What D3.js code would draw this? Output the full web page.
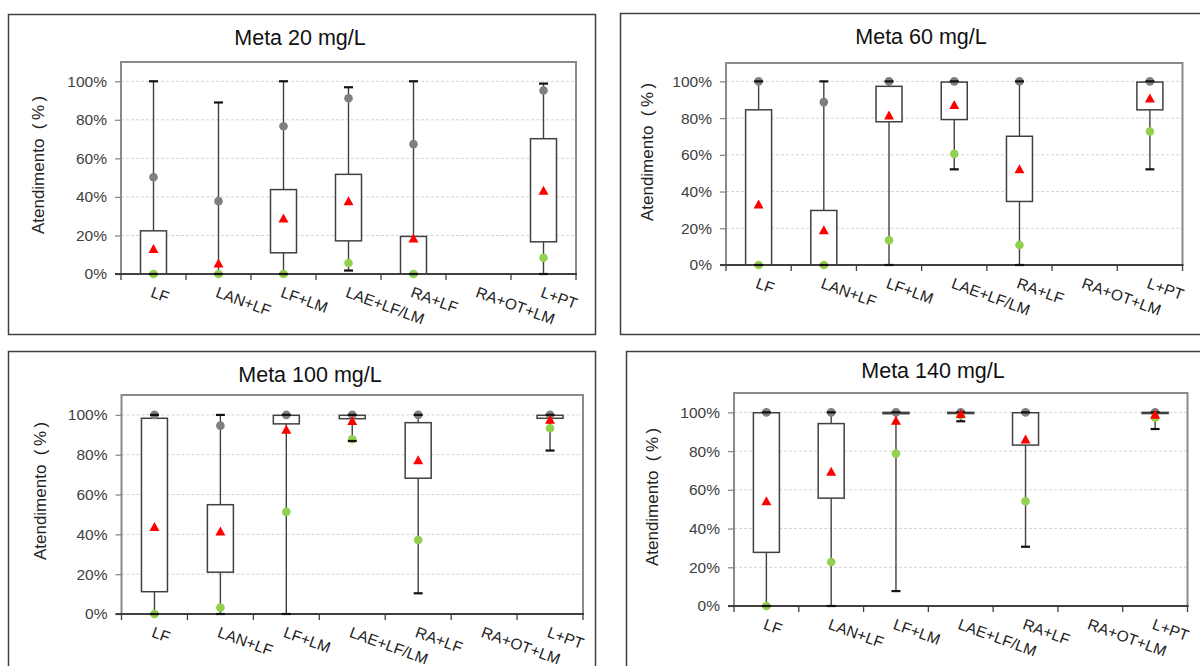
<!DOCTYPE html>
<html><head><meta charset="utf-8">
<script src="https://cdn.jsdelivr.net/npm/d3@7"></script>
<style>
body{margin:0;background:#fff}
svg{display:block}
text{font-family:"Liberation Sans",Arial,Helvetica,sans-serif}
</style>
</head><body>
<svg id="chart" width="1200" height="666"></svg>
<script>
// ---------- DATA ----------
const categories = ["LF","LAN+LF","LF+LM","LAE+LF/LM","RA+LF","RA+OT+LM","L+PT"];
const titles = ["Meta 20 mg/L","Meta 60 mg/L","Meta 100 mg/L","Meta 140 mg/L"];
const yTicks = [0,20,40,60,80,100];
const yLabel = "Atendimento\u00a0\u00a0(\u2009%\u2009)";

// Meta 20 mg/L
const min20  = [0,    0,    0,    1.8,  0,    null, 0];
const q1_20  = [0,    0,    11.0, 17.2, 0,    null, 16.7];
const q3_20  = [22.4, 0,    43.8, 51.7, 19.5, null, 70.2];
const max20  = [100,  89.0, 100,  96.9, 100,  null, 98.8];
const p90_20 = [50.2, 37.8, 76.7, 91.2, 67.4, null, 95.2];
const p10_20 = [0,    0,    0,    5.7,  0,    null, 8.4];
const mean20 = [13.2, 5.7,  29.0, 37.9, 18.6, null, 43.4];

// Meta 60 mg/L
const min60  = [0,    0,    0,    52.1, 0,    null, 52.1];
const q1_60  = [0,    0,    78.0, 79.2, 34.6, null, 84.5];
const q3_60  = [84.5, 29.7, 97.3, 99.6, 70.1, null, 99.6];
const max60  = [100,  100,  100,  100,  100,  null, 100];
const p90_60 = [100,  88.7, 100,  100,  100,  null, 100];
const p10_60 = [0,    0,    13.5, 60.5, 10.9, null, 72.7];
const mean60 = [33.2, 19.1, 81.6, 87.3, 52.3, null, 90.9];

// Meta 100 mg/L
const min100  = [0,    0,    0,    86.9, 10.4, null, 82.1];
const q1_100  = [11.2, 21.0, 95.5, 98.1, 68.2, null, 98.3];
const q3_100  = [98.3, 54.9, 99.8, 99.8, 96.1, null, 99.8];
const max100  = [100,  100,  100,  100,  100,  null, 100];
const p90_100 = [100,  94.6, 100,  100,  100,  null, 100];
const p10_100 = [0,    3.2,  51.3, 87.8, 37.2, null, 93.3];
const mean100 = [43.9, 41.7, 92.8, 97.1, 77.4, null, 97.8];

// Meta 140 mg/L
const min140  = [0,    0,    7.7,  95.4, 30.6, null, 91.4];
const q1_140  = [27.7, 55.7, 99.3, 99.4, 83.1, null, 99.4];
const q3_140  = [99.8, 94.2, 100,  100,  99.8, null, 100];
const max140  = [100,  100,  100,  100,  100,  null, 100];
const p90_140 = [100,  100,  100,  100,  100,  null, 100];
const p10_140 = [0,    22.7, 78.7, 98.5, 54.1, null, 97.3];
const mean140 = [54.3, 69.6, 95.9, 99.3, 86.2, null, 99.0];

// ---------- LAYOUT ----------
const panels = [
  {title:titles[0], outer:[8,14,587,320],  plot:[121,62,576,274],  titleXY:[300,45],  ylab:[38,165],
   s:{min:min20,q1:q1_20,q3:q3_20,max:max20,p90:p90_20,p10:p10_20,mean:mean20}},
  {title:titles[1], outer:[620,13,600,321], plot:[726,63,1182.5,265], titleXY:[921,44], ylab:[647,152],
   s:{min:min60,q1:q1_60,q3:q3_60,max:max60,p90:p90_60,p10:p10_60,mean:mean60}},
  {title:titles[2], outer:[8,351,587,340], plot:[121.5,395,583,614], titleXY:[310,382], ylab:[40,491],
   s:{min:min100,q1:q1_100,q3:q3_100,max:max100,p90:p90_100,p10:p10_100,mean:mean100}},
  {title:titles[3], outer:[626,351,600,340], plot:[734,393,1187.5,606], titleXY:[933,378], ylab:[652,497],
   s:{min:min140,q1:q1_140,q3:q3_140,max:max140,p90:p90_140,p10:p10_140,mean:mean140}}
];

const svg = d3.select("#chart");
const dark = "#404040";

panels.forEach(p => {
  const g = svg.append("g");
  const [L,T,R,B] = p.plot;
  const x = d3.scaleBand().domain(categories).range([L,R]).padding(0);
  const y = d3.scaleLinear().domain([0,110]).range([B,T]);
  const bw = 26, cw = 9;

  // outer border
  g.append("rect").attr("x",p.outer[0]+0.5).attr("y",p.outer[1]+0.5)
    .attr("width",p.outer[2]).attr("height",p.outer[3])
    .attr("fill","#fff").attr("stroke",dark).attr("stroke-width",1.5);

  // title
  g.append("text").attr("x",p.titleXY[0]).attr("y",p.titleXY[1])
    .attr("text-anchor","middle").attr("font-size",21.5).attr("fill","#111").text(p.title);

  // gridlines
  g.selectAll(".grid").data(yTicks.filter(d=>d>0)).enter().append("line")
    .attr("x1",L).attr("x2",R).attr("y1",d=>y(d)).attr("y2",d=>y(d))
    .attr("stroke","#d4d4d4").attr("stroke-width",1).attr("stroke-dasharray","3,2");

  // frame
  g.append("rect").attr("x",L).attr("y",T).attr("width",R-L).attr("height",B-T)
    .attr("fill","none").attr("stroke","#8a8a8a").attr("stroke-width",2);

  // y axis
  const ya = d3.axisLeft(y).tickValues(yTicks).tickFormat(d=>d+"%").tickSize(6).tickPadding(8);
  const yg = g.append("g").attr("transform",`translate(${L},0)`).call(ya);
  yg.select(".domain").remove();
  yg.selectAll(".tick line").attr("stroke","#8a8a8a").attr("stroke-width",1.3);
  yg.selectAll(".tick text").attr("font-size",15.5).attr("fill",dark)
    .style("font-family",'"Liberation Sans",Arial,sans-serif');

  // y label
  g.append("text").attr("transform",`translate(${p.ylab[0]},${p.ylab[1]}) rotate(-90)`)
    .attr("text-anchor","middle").attr("dy","0.35em").attr("font-size",17).attr("fill","#222")
    .text(yLabel);

  const idx = categories.map((c,i)=>i).filter(i=>p.s.q1[i]!==null);
  const cx = i => x(categories[i]) + x.bandwidth()/2;

  // whiskers
  g.selectAll(".wh").data(idx).enter().append("line")
    .attr("x1",cx).attr("x2",cx).attr("y1",i=>y(p.s.min[i])).attr("y2",i=>y(p.s.max[i]))
    .attr("stroke",dark).attr("stroke-width",1.4);

  // boxes
  g.selectAll(".box").data(idx).enter().append("rect")
    .attr("x",i=>cx(i)-bw/2).attr("width",bw)
    .attr("y",i=>y(p.s.q3[i])).attr("height",i=>Math.max(0,y(p.s.q1[i])-y(p.s.q3[i])))
    .attr("fill","#fff").attr("stroke",dark).attr("stroke-width",1.5);

  // x axis line & category ticks
  g.append("line").attr("x1",L-6).attr("x2",R+1).attr("y1",y(0)).attr("y2",y(0))
    .attr("stroke",dark).attr("stroke-width",2);
  const bounds = categories.map(c=>x(c)).concat([R]);
  g.selectAll(".xt").data(bounds).enter().append("line")
    .attr("x1",d=>d).attr("x2",d=>d).attr("y1",y(0)).attr("y2",y(0)+6)
    .attr("stroke",dark).attr("stroke-width",1.3);

  // category labels
  g.selectAll(".xl").data(categories).enter().append("text")
    .attr("transform",c=>`translate(${x(c)+x.bandwidth()/2},${y(0)+12}) rotate(20)`)
    .attr("dy","0.72em").attr("font-size",15.5).attr("fill","#222").text(c=>c);

  // grey dots (upper percentile)
  g.selectAll(".gd").data(idx).enter().append("circle")
    .attr("cx",cx).attr("cy",i=>y(p.s.p90[i])).attr("r",4.3).attr("fill","#7f7f7f");
  // green dots (lower percentile)
  g.selectAll(".gr").data(idx).enter().append("circle")
    .attr("cx",cx).attr("cy",i=>y(p.s.p10[i])).attr("r",4.3).attr("fill","#92d050");

  // caps
  ["min","max"].forEach(k=>{
    g.selectAll(".cap"+k).data(idx).enter().append("line")
      .attr("x1",i=>cx(i)-cw/2).attr("x2",i=>cx(i)+cw/2)
      .attr("y1",i=>y(p.s[k][i])).attr("y2",i=>y(p.s[k][i]))
      .attr("stroke","#111").attr("stroke-width",2.2);
  });

  // mean triangles
  g.selectAll(".tri").data(idx).enter().append("path")
    .attr("transform",i=>`translate(${cx(i)},${y(p.s.mean[i])})`)
    .attr("d","M0,-4.6L5,4.4L-5,4.4Z").attr("fill","#ff0000");
});
</script>
</body></html>
